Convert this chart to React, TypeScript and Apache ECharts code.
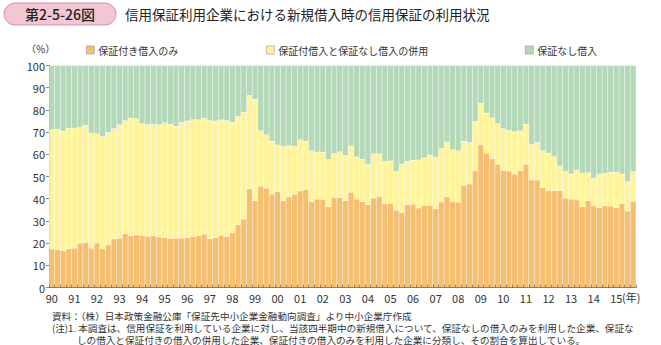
import React, { useEffect, useRef } from "react";
import * as echarts from "echarts";

const seriesNames = ["保証付き借入のみ", "保証付借入と保証なし借入の併用", "保証なし借入"];
const startYear = 1990;
const endYear = 2015;

// 保証付き借入のみ (%), quarterly 1990Q1–2015Q4
const guaranteedOnly = [
  17.3, 17.0, 16.5, 17.4, 17.7, 20.0, 20.3, 17.7, 20.0, 17.4, 19.2, 21.9, 22.2, 24.2, 23.4, 23.7,
  23.4, 23.0, 23.3, 22.7, 22.5, 22.1, 22.2, 22.2, 22.5, 23.0, 23.4, 24.0, 22.0, 22.5, 23.5, 23.0,
  24.6, 28.3, 30.8, 44.5, 39.1, 45.6, 44.7, 42.0, 43.2, 39.1, 40.9, 42.0, 43.5, 44.1, 38.6, 39.8,
  39.6, 36.4, 40.6, 40.4, 39.1, 42.9, 39.8, 38.6, 37.3, 40.3, 41.1, 37.8, 38.0, 34.8, 33.8, 37.3,
  37.5, 35.8, 37.0, 37.0, 35.4, 38.5, 41.0, 38.8, 38.4, 46.0, 46.6, 52.5, 64.4, 60.5, 58.0, 55.5,
  52.8, 52.5, 51.1, 52.6, 55.5, 48.4, 48.4, 45.0, 43.6, 43.6, 43.6, 40.2, 39.8, 39.4, 36.4, 39.1,
  36.8, 35.9, 36.8, 36.7, 35.9, 37.9, 34.4, 38.9,
];

// 保証付き借入のみ + 併用 (cumulative top of the yellow band, %)
const cumulativeTop = [
  71.0, 71.3, 70.4, 71.8, 71.8, 72.1, 73.1, 69.5, 69.2, 68.0, 69.8, 71.5, 73.3, 75.1, 76.3, 76.0,
  73.8, 73.4, 73.5, 73.3, 74.2, 73.5, 72.6, 74.3, 75.0, 75.6, 75.5, 76.3, 75.2, 75.0, 75.5, 75.2,
  74.4, 77.0, 79.0, 86.5, 84.8, 70.6, 68.8, 65.9, 64.2, 63.6, 63.8, 63.6, 66.5, 65.8, 61.6, 61.0,
  61.0, 57.6, 60.3, 61.1, 59.4, 63.8, 58.8, 57.8, 55.6, 60.2, 60.2, 56.8, 57.0, 52.3, 55.6, 56.9,
  57.3, 57.5, 58.4, 59.7, 58.8, 62.7, 65.6, 62.0, 61.6, 65.9, 65.3, 74.9, 83.0, 78.5, 76.4, 73.8,
  71.5, 70.8, 70.2, 70.5, 73.6, 64.5, 65.4, 61.6, 60.5, 58.9, 54.7, 52.2, 51.1, 52.9, 51.4, 51.7,
  49.2, 51.1, 51.4, 51.9, 51.9, 51.1, 47.7, 52.2,
];

const bothUsed = cumulativeTop.map((t, i) => +(t - guaranteedOnly[i]).toFixed(1));
const unguaranteedOnly = cumulativeTop.map((t) => +(100 - t).toFixed(1));

const categories: string[] = [];
for (let y = startYear; y <= endYear; y++) {
  for (let q = 1; q <= 4; q++) categories.push(`${y}Q${q}`);
}

const yTicks = [0, 10, 20, 30, 40, 50, 60, 70, 80, 90, 100];

const colors = ["#F6BE6F", "#FEF49C", "#B3D9B8"];
const FONT = "'Noto Sans CJK JP', 'Noto Sans', sans-serif";

// cy = intended vertical centre of the text line
function txt(x: number, cy: number, text: string, size: number, extra: any = {}) {
  const lh = Math.round(size + 1);
  return {
    type: "text",
    x,
    y: cy - lh / 2,
    style: {
      text,
      font: `${extra.weight || "normal"} ${size}px ${FONT}`,
      fill: extra.fill || "#333",
      align: extra.align || "left",
      verticalAlign: "top",
      lineHeight: lh,
    },
  };
}

export default function App() {
  const ref = useRef<HTMLDivElement>(null);
  useEffect(() => {
    document.body.style.margin = "0";
    if (!ref.current) return;
    const chart = echarts.init(ref.current, undefined, { renderer: "svg" });
    const data = [guaranteedOnly, bothUsed, unguaranteedOnly];
    const legendPos = [{ left: 86 }, { left: 266 }, { left: 525 }];
    chart.setOption({
      animation: false,
      textStyle: { fontFamily: FONT },
      grid: { left: 49, right: 25, top: 65.5, bottom: 57.5, containLabel: false },
      legend: seriesNames.map((n, i) => ({
        data: [n],
        top: 45,
        left: legendPos[i].left,
        icon: "rect",
        itemWidth: 8,
        itemHeight: 8,
        itemGap: 4,
        padding: 0,
        selectedMode: false,
        textStyle: { fontSize: 10, color: "#333", fontFamily: FONT, padding: [0, 0, 0, -1] },
        itemStyle: { borderColor: "#999", borderWidth: 0.6 },
      })),
      xAxis: {
        type: "category",
        data: categories,
        boundaryGap: true,
        z: 10,
        axisLine: { show: true, lineStyle: { color: "#8a7a6a", width: 1 } },
        axisTick: {
          show: true,
          inside: true,
          length: 3,
          interval: 0,
          lineStyle: { color: "#8a6a4a", width: 0.8 },
        },
        axisLabel: {
          interval: (idx: number) => idx % 4 === 0,
          formatter: (v: string) => v.slice(2, 4),
          fontSize: 11,
          color: "#333",
          margin: 5,
          fontFamily: FONT,
        },
      },
      yAxis: {
        type: "value",
        min: 0,
        max: 100,
        interval: 10,
        axisLine: { show: true, lineStyle: { color: "#888", width: 1 } },
        axisTick: { show: true, length: 3, lineStyle: { color: "#888" } },
        splitLine: { show: false },
        axisLabel: {
          fontSize: 11,
          color: "#333",
          margin: 4,
          fontFamily: FONT,
          formatter: (v: number) => (yTicks.includes(v) ? String(v) : ""),
        },
      },
      series: seriesNames.map((n, i) => ({
        name: n,
        type: "bar",
        stack: "total",
        data: data[i],
        barCategoryGap: "0%",
        barGap: "0%",
        itemStyle: {
          color: colors[i],
          borderColor: "rgba(255,255,255,0.25)",
          borderWidth: 0.4,
        },
      })),
      graphic: [
        {
          type: "rect",
          shape: { x: 4, y: 3, width: 112, height: 22, r: 11 },
          style: { fill: "#F2C6D3", stroke: "#D88FA8", lineWidth: 1 },
        },
        txt(60, 14, "第2-5-26図", 14, { align: "center", fill: "#222", weight: 500 }),
        txt(125, 14, "信用保証利用企業における新規借入時の信用保証の利用状況", 13.5, { fill: "#222" }),
        txt(26, 48, "（%）", 10),
        txt(622, 297, "(年)", 11),
        txt(52, 316, "資料：（株）日本政策金融公庫「保証先中小企業金融動向調査」より中小企業庁作成", 9.6),
        txt(
          52,
          328,
          "(注)1. 本調査は、信用保証を利用している企業に対し、当該四半期中の新規借入について、保証なしの借入のみを利用した企業、保証な",
          9.6
        ),
        txt(
          77,
          339.5,
          "しの借入と保証付きの借入の併用した企業、保証付きの借入のみを利用した企業に分類し、その割合を算出している。",
          9.6
        ),
      ],
    });
    return () => chart.dispose();
  }, []);
  return <div ref={ref} style={{ width: 661, height: 345 }} />;
}
